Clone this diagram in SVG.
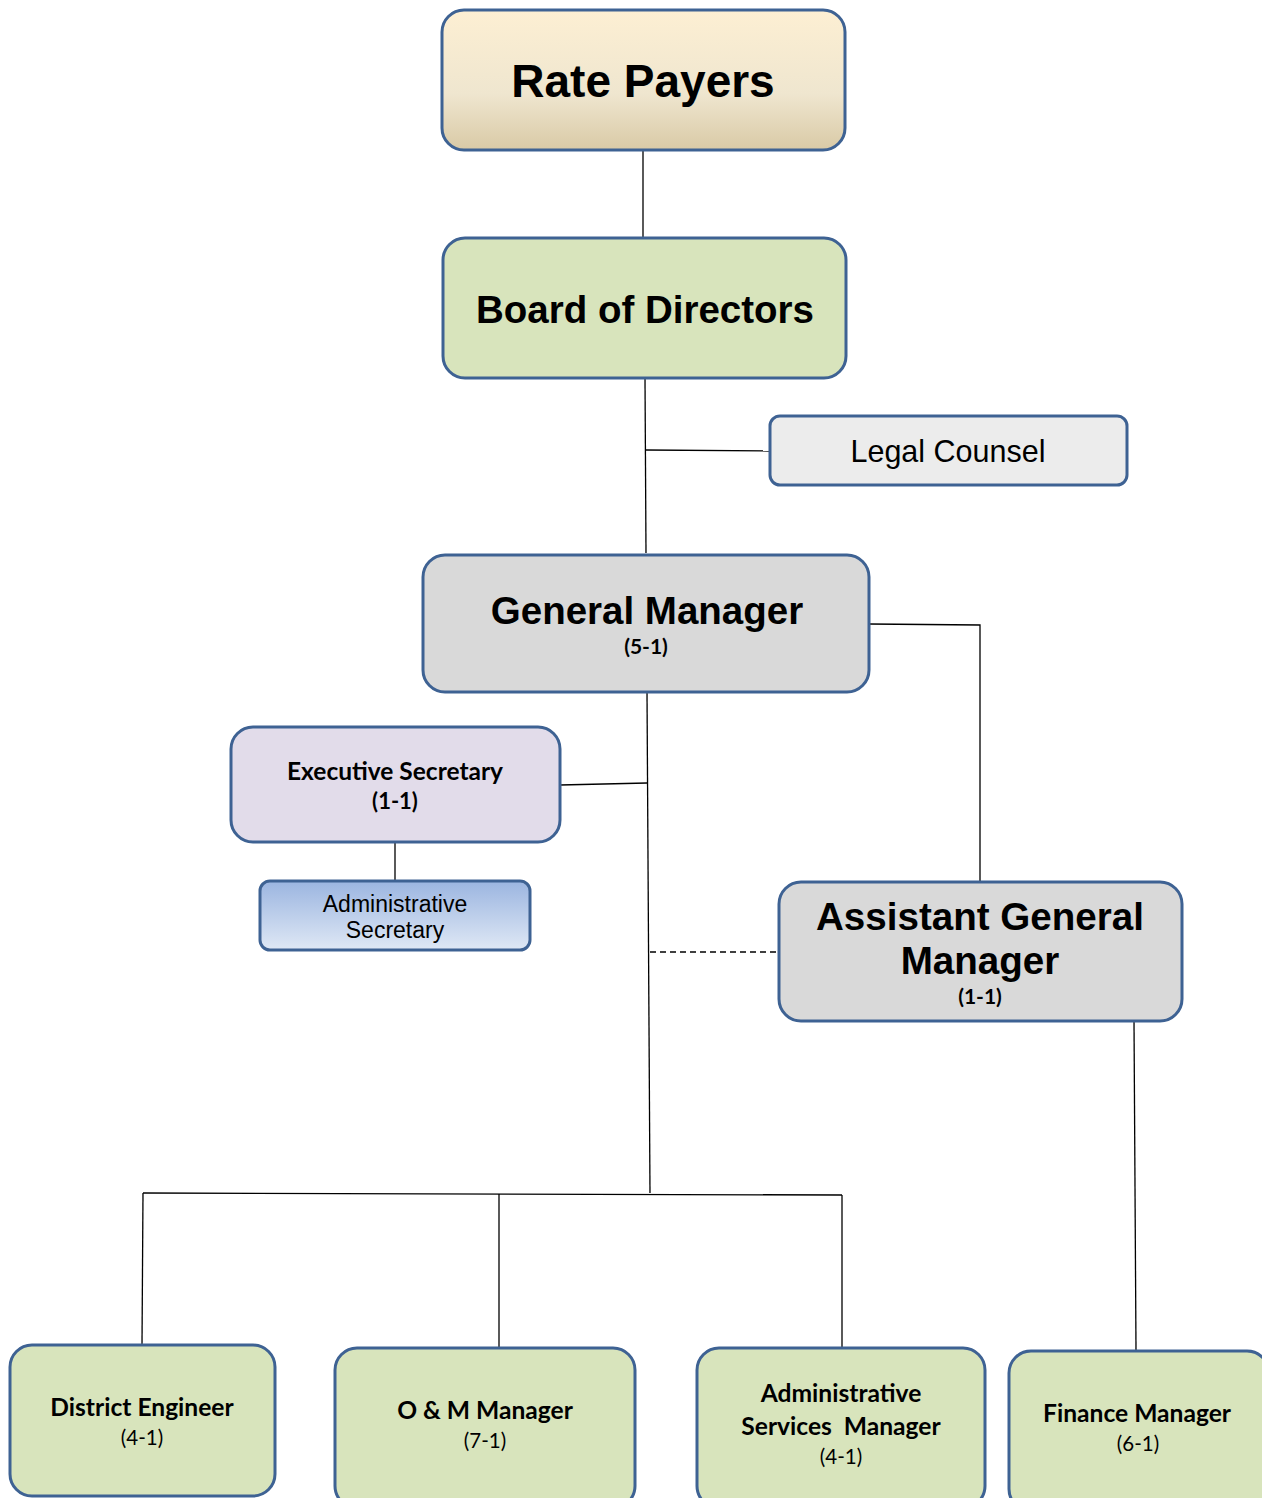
<svg xmlns="http://www.w3.org/2000/svg" width="1262" height="1498" viewBox="0 0 1262 1498">
<defs>
<linearGradient id="gTan" x1="0" y1="0" x2="0" y2="1">
<stop offset="0" stop-color="#fdefd3"/><stop offset="0.6" stop-color="#efe6cf"/><stop offset="1" stop-color="#d9caa6"/>
</linearGradient>
<linearGradient id="gBlue" x1="0" y1="0" x2="0" y2="1">
<stop offset="0" stop-color="#9bb5e0"/><stop offset="1" stop-color="#dfe8f5"/>
</linearGradient>
<style>
.box{stroke:#3e6293;stroke-width:3}
.green{fill:#d8e4bc}
.gray{fill:#d9d9d9}
.ln{stroke:#000;stroke-width:1.3;fill:none}
.a{font-family:"Liberation Sans",Arial,sans-serif;text-anchor:middle;fill:#000}
.c{font-family:Lato,"Open Sans",sans-serif;text-anchor:middle;fill:#000}
.big{font-weight:bold}
</style>
</defs>
<g id="connectors">
<path class="ln" d="M643 150V238"/>
<path class="ln" d="M645 378L646 553"/>
<path class="ln" d="M646 450L770 451"/>
<path class="ln" d="M869 624L980 625V882"/>
<path class="ln" d="M647 692L650 1193"/>
<path class="ln" d="M560 785L647 783"/>
<path class="ln" d="M395 842V881"/>
<path class="ln" d="M650 952H779" stroke-dasharray="6,4"/>
<path class="ln" d="M1134 1021L1136 1350"/>
<path class="ln" d="M143 1193L842 1195"/>
<path class="ln" d="M143 1193L142 1345"/>
<path class="ln" d="M499 1194V1347"/>
<path class="ln" d="M842 1195V1348"/>
</g>
<g id="rate-payers">
<rect class="box" x="442" y="10" width="403" height="140" rx="22" fill="url(#gTan)"/>
<text class="a big" x="643" y="97" font-size="46">Rate Payers</text>
</g>
<g id="board">
<rect class="box green" x="443" y="238" width="403" height="140" rx="22"/>
<text class="a big" x="645" y="323" font-size="38.5">Board of Directors</text>
</g>
<g id="legal">
<rect class="box" x="770" y="416" width="357" height="69" rx="10" fill="#ececec"/>
<text class="a" x="948" y="462" font-size="30.5">Legal Counsel</text>
</g>
<g id="gm">
<rect class="box gray" x="423" y="555" width="446" height="137" rx="22"/>
<text class="a big" x="647" y="624" font-size="38.5">General Manager</text>
<text class="c big" x="646" y="654" font-size="21">(5-1)</text>
</g>
<g id="exec-sec">
<rect class="box" x="231" y="727" width="329" height="115" rx="22" fill="#e2dcea"/>
<text class="c big" x="395" y="780" font-size="24.5">Executive Secretary</text>
<text class="c big" x="395" y="809" font-size="22">(1-1)</text>
</g>
<g id="admin-sec">
<rect class="box" x="260" y="881" width="270" height="69" rx="10" fill="url(#gBlue)"/>
<text class="a" x="395" y="912" font-size="23">Administrative</text>
<text class="a" x="395" y="938" font-size="23">Secretary</text>
</g>
<g id="agm">
<rect class="box gray" x="779" y="882" width="403" height="139" rx="22"/>
<text class="a big" x="980" y="930" font-size="38.6">Assistant General</text>
<text class="a big" x="980" y="974" font-size="38.6">Manager</text>
<text class="c big" x="980" y="1004" font-size="21">(1-1)</text>
</g>
<g id="district-engineer">
<rect class="box green" x="10" y="1345" width="265" height="151" rx="22"/>
<text class="c big" x="142" y="1416" font-size="24.6">District Engineer</text>
<text class="c" x="142" y="1445" font-size="20.5">(4-1)</text>
</g>
<g id="om-manager">
<rect class="box green" x="335" y="1348" width="300" height="160" rx="22"/>
<text class="c big" x="485" y="1419" font-size="24.6">O &amp; M Manager</text>
<text class="c" x="485" y="1448" font-size="20.5">(7-1)</text>
</g>
<g id="admin-services">
<rect class="box green" x="697" y="1348" width="288" height="160" rx="22"/>
<text class="c big" x="841" y="1402" font-size="24.6">Administrative</text>
<text class="c big" x="841" y="1435" font-size="24.6" xml:space="preserve">Services  Manager</text>
<text class="c" x="841" y="1464" font-size="20.5">(4-1)</text>
</g>
<g id="finance">
<rect class="box green" x="1009" y="1351" width="260" height="160" rx="22"/>
<text class="c big" x="1137" y="1422" font-size="24.6">Finance Manager</text>
<text class="c" x="1138" y="1451" font-size="20.5">(6-1)</text>
</g>
</svg>
